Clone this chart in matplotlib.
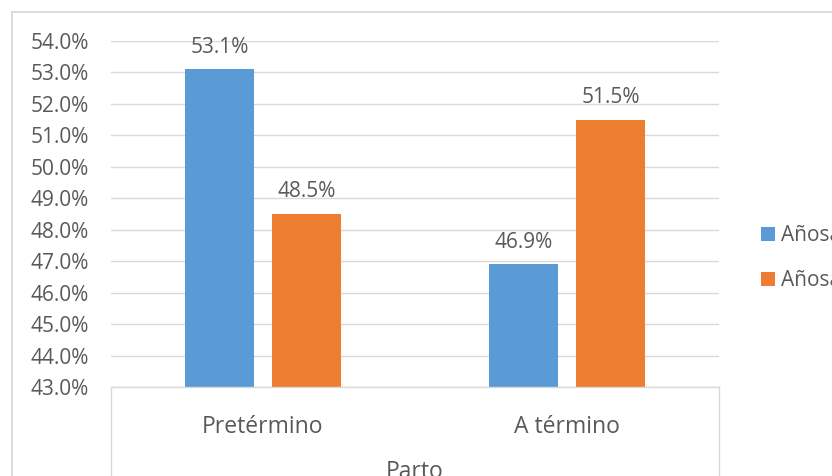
import matplotlib
matplotlib.use("Agg")
import matplotlib.pyplot as plt
import numpy as np
from matplotlib.lines import Line2D
from matplotlib.ticker import PercentFormatter

plt.rcParams["font.family"] = ["Open Sans", "DejaVu Sans"]

categorias = ["Pretérmino", "A término"]
series = ["Añosa Sí", "Añosa No"]
valores_1 = [53.1, 46.9]
valores_2 = [48.5, 51.5]
y_ticks = np.arange(43, 54.5, 1)

azul = "#5B9BD5"
naranja = "#ED7D31"
gris_txt = "#595959"
gris_lin = "#D9D9D9"

fig = plt.figure(figsize=(8.32, 4.76), dpi=100)
ax = fig.add_axes([111 / 832, 1 - 387 / 476, 608 / 832, 346 / 476])

x = np.arange(len(categorias))
ancho = 0.224
off = 0.143
b1 = ax.bar(x - off, valores_1, ancho, color=azul, label=series[0], zorder=2)
b2 = ax.bar(x + off, valores_2, ancho, color=naranja, label=series[1], zorder=2)

for barras, vals in [(b1, valores_1), (b2, valores_2)]:
    for r, v in zip(barras, vals):
        ax.annotate("{:.1f}%".format(v), (r.get_x() + r.get_width() / 2, v),
                    xytext=(0, 12), textcoords="offset points",
                    ha="center", va="baseline", fontsize=15, color=gris_txt)

ax.set_ylim(43, 54)
ax.set_xlim(-0.5, 1.5)
ax.set_yticks(y_ticks)
ax.yaxis.set_major_formatter(PercentFormatter(decimals=1))
ax.tick_params(axis="y", length=0, pad=16, labelsize=15, labelcolor=gris_txt)
ax.set_xticks(x)
ax.set_xticklabels(categorias)
ax.tick_params(axis="x", length=0, pad=20, labelsize=16.5, labelcolor=gris_txt)
ax.grid(axis="y", color=gris_lin, linewidth=1.0, zorder=0)
for s in ["top", "left", "right"]:
    ax.spines[s].set_visible(False)
ax.spines["bottom"].set_color(gris_lin)
ax.spines["bottom"].set_linewidth(1.0)

# cuadro del eje de categorias
x0 = 111 / 832
x1 = 719 / 832
yb = 1 - 387 / 476
fig.add_artist(Line2D([x0, x0], [0, yb], color=gris_lin, lw=1.0))
fig.add_artist(Line2D([x1, x1], [0, yb], color=gris_lin, lw=1.0))
fig.text(415 / 832, 1 - 460 / 476, "Parto", ha="center", va="top",
         fontsize=16.5, color=gris_txt)

# borde del area del grafico
bx = 11.5 / 832
by = 1 - 12 / 476
fig.add_artist(Line2D([bx, bx], [0, by], color=gris_lin, lw=1.3))
fig.add_artist(Line2D([bx, 1], [by, by], color=gris_lin, lw=1.3))

ax.legend(loc="center left", bbox_to_anchor=(761 / 832, 1 - 258 / 476),
          bbox_transform=fig.transFigure, frameon=False, fontsize=15,
          handlelength=0.68, handleheight=0.68, handletextpad=0.3,
          labelspacing=1.15, borderpad=0, borderaxespad=0,
          labelcolor=gris_txt)

fig.savefig("out.png", dpi=100)
